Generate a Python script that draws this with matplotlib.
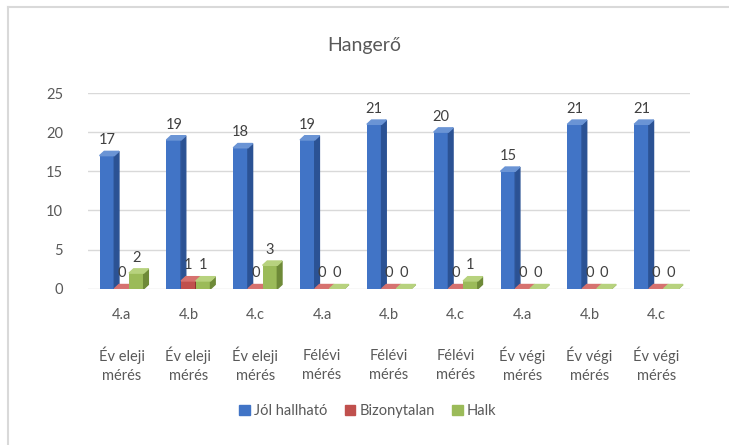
import numpy as np
import matplotlib.pyplot as plt
from matplotlib.patches import Polygon, Patch
from matplotlib.lines import Line2D
import matplotlib.transforms as mtransforms

plt.rcParams['font.family'] = ['Lato', 'DejaVu Sans']

# chart data
groups = ['4.a', '4.b', '4.c', '4.a', '4.b', '4.c', '4.a', '4.b', '4.c']
periods = ['Év eleji\nmérés', 'Év eleji\nmérés', 'Év eleji\nmérés',
           'Félévi\nmérés', 'Félévi\nmérés', 'Félévi\nmérés',
           'Év végi\nmérés', 'Év végi\nmérés', 'Év végi\nmérés']
series_names = ['Jól hallható', 'Bizonytalan', 'Halk']
jol = [17, 19, 18, 19, 21, 20, 15, 21, 21]
bizonytalan = [0, 1, 0, 0, 0, 0, 0, 0, 0]
halk = [2, 1, 3, 0, 0, 1, 0, 0, 0]

# front / side / top shades per series
colors = [('#4174C6', '#2B5294', '#6A94D5'),
          ('#C0504D', '#8C302D', '#D6726F'),
          ('#9BBB59', '#6E8A38', '#B7D27E')]
text_grey = '#595959'

fig = plt.figure(figsize=(7.29, 4.45), dpi=100)
ax = fig.add_axes([0.121, 0.351, 0.825, 0.44])

x = np.arange(len(groups))
w = 0.22
dx, dy = 0.07, 0.55  # fake depth for the 3d look

for k, vals in enumerate([jol, bizonytalan, halk]):
    front, side, top = colors[k]
    xs = x + (k - 1) * w
    ax.bar(xs, vals, width=w, color=front, zorder=3)
    for xc, v in zip(xs, vals):
        x0, x1 = xc - w / 2, xc + w / 2
        ax.add_patch(Polygon([(x1, 0), (x1 + dx, dy), (x1 + dx, v + dy), (x1, v)],
                             closed=True, color=side, zorder=3))
        ax.add_patch(Polygon([(x0, v), (x0 + dx, v + dy), (x1 + dx, v + dy), (x1, v)],
                             closed=True, color=top, zorder=3))
        ax.annotate(str(v), (xc, v + dy), xytext=(0, 3), textcoords='offset points',
                    ha='center', va='bottom', fontsize=10.5, color='#404040', zorder=4)

ax.set_xlim(-0.5, 8.5)
ax.set_ylim(0, 25)
ax.set_yticks(range(0, 26, 5))
ax.set_xticks(x)
ax.set_xticklabels(groups)
ax.tick_params(axis='both', length=0, labelsize=10.5, labelcolor=text_grey)
ax.tick_params(axis='y', pad=18)
ax.tick_params(axis='x', pad=14)
ax.grid(axis='y', color='#D9D9D9', lw=1, zorder=0)
for s in ax.spines.values():
    s.set_visible(False)

# second row of category labels (measurement period)
trans = mtransforms.blended_transform_factory(ax.transData, ax.transAxes)
for xi, p in zip(x, periods):
    ax.text(xi, -0.39, p, transform=trans, ha='center', va='center',
            fontsize=10.5, color=text_grey, linespacing=1.45)

fig.text(0.5, 1 - 45 / 445, 'Hangerő', ha='center', va='center', fontsize=14, color=text_grey)

handles = [Patch(color=c[0]) for c in colors]
fig.legend(handles, series_names, loc='center', bbox_to_anchor=(368 / 729, 1 - 411 / 445),
           ncol=3, frameon=False, handlelength=0.7, handleheight=0.7, handletextpad=0.3,
           columnspacing=1.2, fontsize=10.5, labelcolor=text_grey)

# outer frame (only top and left edges are visible in the original)
fig.add_artist(Line2D([8 / 729, 1], [1 - 7 / 445, 1 - 7 / 445], transform=fig.transFigure,
                      color='#D9D9D9', lw=1.5))
fig.add_artist(Line2D([8 / 729, 8 / 729], [1 - 7 / 445, 0], transform=fig.transFigure,
                      color='#D9D9D9', lw=1.5))

fig.savefig('out.png', dpi=100)
